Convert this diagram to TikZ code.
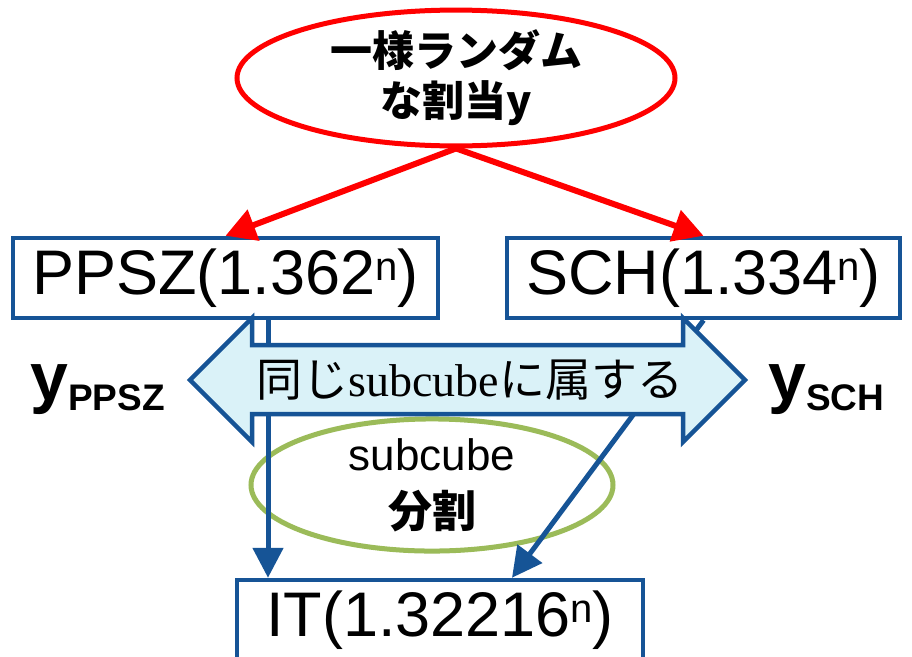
\documentclass[tikz,border=0pt]{standalone}
\usepackage{fontspec}
\setmainfont{Liberation Sans}
\newfontfamily\cjk{Noto Sans CJK JP}
\newfontfamily\serifl{Liberation Serif}
\usetikzlibrary{arrows.meta,shapes.geometric}
\definecolor{bblue}{RGB}{22,84,150}
\definecolor{rred}{RGB}{255,0,0}
\definecolor{lgreen}{RGB}{155,187,89}
\definecolor{lcyan}{RGB}{218,242,248}
\newcommand\supn{\raisebox{14pt}{\fontsize{40}{40}\selectfont n}}
\tikzset{
  boxnode/.style={draw=bblue, line width=4.5pt, fill=white, inner sep=0pt,
    minimum height=80pt, font=\fontsize{63}{70}\selectfont},
  redarrow/.style={draw=rred, line width=6pt, -{Triangle[length=30pt,width=32pt]}},
  bluearrow/.style={draw=bblue, line width=5pt, -{Triangle[length=30pt,width=30pt]}},
  ylabel/.style={anchor=base west, inner sep=0pt, font=\bfseries}
}
\begin{document}
\begin{tikzpicture}[x=1pt,y=-1pt]
\useasboundingbox (0,0) rectangle (912,656);
\fill[white] (0,0) rectangle (912,656);
\clip (0,0) rectangle (912,656);

% red ellipse
\node[ellipse, draw=rred, line width=5pt, fill=white, minimum width=438pt, minimum height=134pt,
  inner sep=0pt, align=center, font=\cjk\bfseries\fontsize{42}{50}\selectfont] (rand) at (456,78)
  {一様ランダム\\な割当y};

% boxes
\node[boxnode, minimum width=425pt] (ppsz) at (225.5,278) {PPSZ(1.362\supn)};
\node[boxnode, minimum width=393pt] (sch) at (703.5,278) {SCH(1.334\supn)};
\node[boxnode, minimum width=406pt] (it) at (440,620) {IT(1.32216\supn)};

% red arrows
\draw[redarrow] (rand.south) -- (ppsz.north);
\draw[redarrow] (rand.south) -- (sch.north);

% green ellipse
\node[ellipse, draw=lgreen, line width=5pt, minimum width=362pt, minimum height=132pt,
  inner sep=0pt, align=center, font=\fontsize{44}{57}\selectfont] (split) at (432,485)
  {subcube\\{\cjk\bfseries 分割}};

% blue arrows
\coordinate (xa) at (268,0);
\coordinate (xb) at (512,0);
\draw[bluearrow] (ppsz.south -| xa) -- (it.north -| xa);
\draw[bluearrow] (sch.south) -- (it.north -| xb);

% double arrow
\draw[draw=bblue, line width=4.5pt, fill=lcyan, line join=miter]
  (190,380) -- (252,318) -- (252,345) -- (683,345) -- (683,318) -- (745,380)
  -- (683,442) -- (683,414) -- (252,414) -- (252,442) -- cycle;
\node[inner sep=0pt, font=\cjk\fontsize{46}{50}\selectfont] (same) at (470,380)
  {同じ{\serifl subcube}に属する};

% y labels
\node[ylabel] (yppsz) at (30,400)
  {\fontsize{68}{68}\selectfont y\raisebox{-10pt}{\fontsize{37}{37}\selectfont PPSZ}};
\node[ylabel] (ysch) at (768,400)
  {\fontsize{68}{68}\selectfont y\raisebox{-10pt}{\fontsize{37}{37}\selectfont SCH}};
\end{tikzpicture}
\end{document}
